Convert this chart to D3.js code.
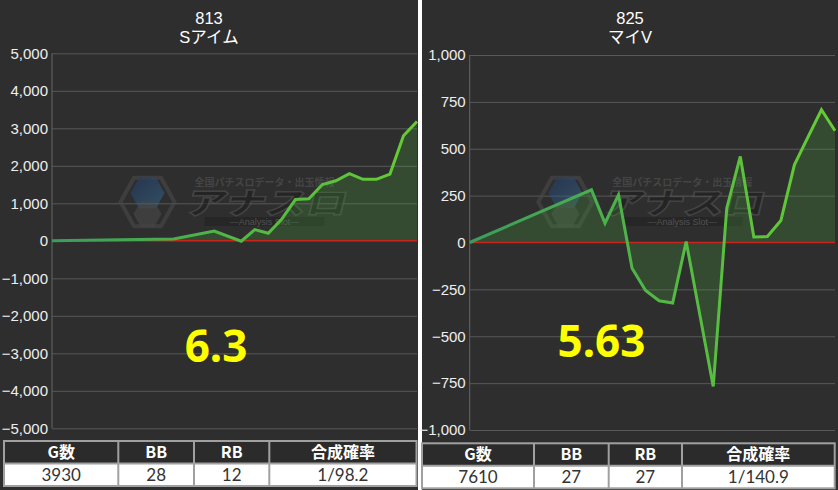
<!DOCTYPE html>
<html><head><meta charset="utf-8">
<script src="https://cdn.jsdelivr.net/npm/d3@7"></script>
<style>
body{margin:0;background:#ffffff;}
svg{display:block;}
</style>
</head><body>
<svg id="chart" width="838" height="490"></svg>
<script>
// ---------- data ----------
const leftTitle = ["813", "Sアイム"];
const leftIndex = [0, 9, 12, 14, 15, 16, 17, 18, 19, 20, 21, 22, 23, 24, 25, 26, 27];
const leftValues = [0, 50, 260, -10, 300, 200, 580, 1100, 1120, 1500, 1600, 1790, 1640, 1640, 1780, 2800, 3180];
const leftTicks = [5000, 4000, 3000, 2000, 1000, 0, -1000, -2000, -3000, -4000, -5000];
const leftScore = "6.3";
const leftStats = ["3930", "28", "12", "1/98.2"];

const rightTitle = ["825", "マイV"];
const rightIndex = [0, 9, 10, 11, 12, 13, 14, 15, 16, 18, 19, 20, 21, 22, 23, 24, 25, 26, 27];
const rightValues = [0, 281, 103, 254, -137, -256, -311, -323, 5, -768, 183, 459, 29, 32, 117, 414, 562, 708, 596];
const rightTicks = [1000, 750, 500, 250, 0, -250, -500, -750, -1000];
const rightScore = "5.63";
const rightStats = ["7610", "27", "27", "1/140.9"];

const tableHeaders = ["G数", "BB", "RB", "合成確率"];
const xMax = 27;

// ---------- layout ----------
const svg = d3.select("#chart");
const defs = svg.append("defs");

const panels = [
  {title: leftTitle, idx: leftIndex, vals: leftValues, ticks: leftTicks, score: leftScore, stats: leftStats,
   px: 0, pw: 418, plotL: 52, plotR: 417, plotT: 53.3, plotB: 428.3, scoreX: 216, scoreY: 362,
   tableX: 4, tableW: 412.5, tableT: 441, rowH: 22.5, colW: [114.3, 75.7, 75.3, 147.2]},
  {title: rightTitle, idx: rightIndex, vals: rightValues, ticks: rightTicks, score: rightScore, stats: rightStats,
   px: 422, pw: 416, plotL: 469.7, plotR: 835, plotT: 55, plotB: 430, scoreX: 601.5, scoreY: 357,
   tableX: 422, tableW: 412.7, tableT: 443.3, rowH: 22.5, colW: [112, 74.7, 73.3, 152.7]}
];

svg.append("rect").attr("x", 0).attr("y", 0).attr("width", 838).attr("height", 490).attr("fill", "#ffffff");

panels.forEach((p, pi) => {
  const g = svg.append("g");
  g.append("rect").attr("x", p.px).attr("y", 0).attr("width", p.pw).attr("height", 490).attr("fill", "#2e2e2e");

  const yMax = d3.max(p.ticks), yMin = d3.min(p.ticks);
  const x = d3.scaleLinear().domain([0, xMax]).range([p.plotL, p.plotR]);
  const y = d3.scaleLinear().domain([yMin, yMax]).range([p.plotB, p.plotT]);

  // title
  const cx = p.px + p.pw / 2;
  g.append("text").attr("x", cx).attr("y", 23.5).attr("text-anchor", "middle")
    .attr("font-family", "'Liberation Sans', Arial, sans-serif").attr("font-size", 16.5).attr("fill", "#ffffff").text(p.title[0]);
  g.append("text").attr("x", cx).attr("y", 42.5).attr("text-anchor", "middle")
    .attr("font-family", "'Liberation Sans', 'Noto Sans CJK JP', sans-serif").attr("font-size", 16.5).attr("fill", "#ffffff").text(p.title[1]);

  // grid + y axis
  const yAxis = d3.axisLeft(y).tickValues(p.ticks).tickSize(-(p.plotR - p.plotL)).tickPadding(4)
    .tickFormat(d3.format(","));
  const ag = g.append("g").attr("transform", `translate(${p.plotL},0)`).call(yAxis);
  ag.select(".domain").attr("stroke", "#666").attr("d", `M0,${p.plotT}V${p.plotB}`);
  ag.selectAll(".tick line").attr("stroke", "#595959").attr("stroke-width", 1);
  ag.selectAll(".tick text").attr("fill", "#eeeeee").attr("font-size", 15)
    .attr("font-family", "'Liberation Sans', Arial, sans-serif");
  ag.selectAll(".tick").filter(d => d === 0).select("line").attr("stroke", "none");

  // watermark
  const wx = (p.plotL + p.plotR) / 2, wy = 202;
  const wm = g.append("g").attr("opacity", 0.6);
  const hex = (cx0, cy0, r) => {
    const pts = [[-r, 0], [-r / 2, -r * 0.9], [r / 2, -r * 0.9], [r, 0], [r / 2, r * 0.9], [-r / 2, r * 0.9]];
    return pts.map(q => [cx0 + q[0], cy0 + q[1]].join(",")).join(" ");
  };
  const gid = "wmg" + pi;
  const lg = defs.append("linearGradient").attr("id", gid).attr("x1", 0).attr("y1", 0).attr("x2", 1).attr("y2", 1);
  lg.append("stop").attr("offset", 0).attr("stop-color", "#1d3f7a");
  lg.append("stop").attr("offset", 1).attr("stop-color", "#3a7fb0");
  wm.append("polygon").attr("points", hex(wx - 87, wy, 27)).attr("fill", "none").attr("stroke", "#4a4a4a").attr("stroke-width", 4);
  wm.append("polygon").attr("points", hex(wx - 87, wy - 9, 17)).attr("fill", `url(#${gid})`).attr("opacity", 0.7);
  wm.append("polygon").attr("points", hex(wx - 87, wy + 12, 14)).attr("fill", "#555").attr("opacity", 0.7);
  wm.append("text").attr("x", wx + 30).attr("y", wy - 16).attr("text-anchor", "middle")
    .attr("font-family", "'Noto Sans CJK JP', sans-serif").attr("font-size", 10).attr("font-weight", 700)
    .attr("fill", "#555").text("全国パチスロデータ・出玉情報");
  wm.append("text").attr("text-anchor", "middle")
    .attr("transform", `translate(${wx + 30},${wy + 12}) skewX(-14) scale(1.35,1)`)
    .attr("font-family", "'Noto Sans CJK JP', sans-serif").attr("font-size", 30).attr("font-weight", 900)
    .attr("fill", "#1e1e1e").attr("stroke", "#525252").attr("stroke-width", 1.4).text("アナスロ");
  wm.append("rect").attr("x", wx - 30).attr("y", wy + 15).attr("width", 120).attr("height", 9).attr("fill", "#222");
  wm.append("text").attr("x", wx + 30).attr("y", wy + 23).attr("text-anchor", "middle")
    .attr("font-family", "'Liberation Sans', sans-serif").attr("font-size", 9).attr("fill", "#6a6a6a")
    .text("—Analysis Slot—");

  // data
  const data = p.idx.map((d, i) => ({i: d, v: p.vals[i]}));
  const area = d3.area().x(d => x(d.i)).y0(y(0)).y1(d => y(d.v));
  g.append("path").datum(data).attr("d", area).attr("fill", "rgba(70,160,60,0.25)");

  // zero line
  g.append("line").attr("x1", p.plotL).attr("x2", p.plotR).attr("y1", y(0)).attr("y2", y(0))
    .attr("stroke", "#c8261c").attr("stroke-width", 1.5);

  const sg = "lg" + pi;
  const lgr = defs.append("linearGradient").attr("id", sg).attr("gradientUnits", "userSpaceOnUse")
    .attr("x1", p.plotL).attr("x2", p.plotR).attr("y1", 0).attr("y2", 0);
  lgr.append("stop").attr("offset", 0).attr("stop-color", "#3a9c5c");
  lgr.append("stop").attr("offset", 0.45).attr("stop-color", "#4fb548");
  lgr.append("stop").attr("offset", 1).attr("stop-color", "#66cc33");
  const line = d3.line().x(d => x(d.i)).y(d => y(d.v));
  g.append("path").datum(data).attr("d", line).attr("fill", "none")
    .attr("stroke", `url(#${sg})`).attr("stroke-width", 3).attr("stroke-linejoin", "miter");

  // score
  g.append("text").attr("x", p.scoreX).attr("y", p.scoreY).attr("text-anchor", "middle")
    .attr("font-family", "'Noto Sans', 'Open Sans', sans-serif").attr("font-weight", 700)
    .attr("font-size", 44).attr("fill", "#ffff00").text(p.score);

  // table
  const tg = g.append("g");
  let cxp = p.tableX;
  const colX = p.colW.map(w => { const s = cxp; cxp += w; return s; });
  tg.append("rect").attr("x", p.tableX).attr("y", p.tableT).attr("width", p.tableW).attr("height", p.rowH)
    .attr("fill", "#2b2b2b");
  tg.append("rect").attr("x", p.tableX).attr("y", p.tableT + p.rowH).attr("width", p.tableW).attr("height", p.rowH)
    .attr("fill", "#ffffff");
  tg.append("rect").attr("x", p.tableX).attr("y", p.tableT).attr("width", p.tableW).attr("height", p.rowH * 2)
    .attr("fill", "none").attr("stroke", "#a0a0a0").attr("stroke-width", 2);
  tg.append("line").attr("x1", p.tableX).attr("x2", p.tableX + p.tableW)
    .attr("y1", p.tableT + p.rowH).attr("y2", p.tableT + p.rowH).attr("stroke", "#a0a0a0").attr("stroke-width", 2);
  colX.slice(1).forEach(cx1 => {
    tg.append("line").attr("x1", cx1).attr("x2", cx1).attr("y1", p.tableT).attr("y2", p.tableT + p.rowH * 2)
      .attr("stroke", "#a0a0a0").attr("stroke-width", 2);
  });
  tableHeaders.forEach((h, k) => {
    tg.append("text").attr("x", colX[k] + p.colW[k] / 2).attr("y", p.tableT + 17).attr("text-anchor", "middle")
      .attr("font-family", "'Noto Sans CJK JP', sans-serif").attr("font-weight", 700).attr("font-size", 16)
      .attr("fill", "#ffffff").text(h);
    tg.append("text").attr("x", colX[k] + p.colW[k] / 2).attr("y", p.tableT + p.rowH + 17.5).attr("text-anchor", "middle")
      .attr("font-family", "Lato, 'Liberation Sans', sans-serif").attr("font-weight", 400).attr("font-size", 17)
      .attr("fill", "#333333").text(p.stats[k]);
  });
});
</script>
</body></html>
